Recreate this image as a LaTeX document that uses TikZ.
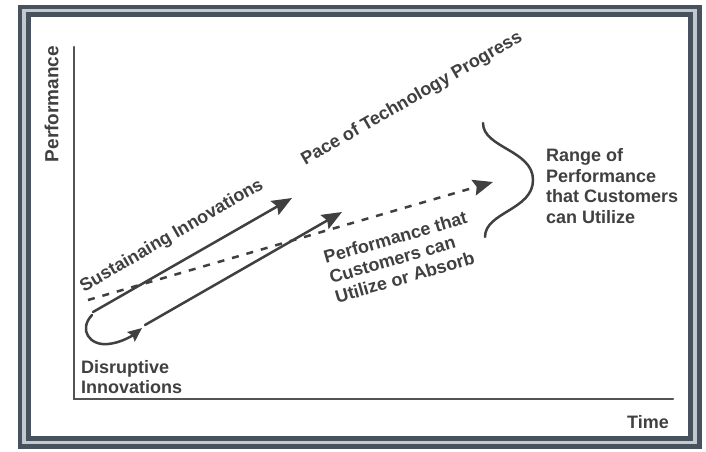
\documentclass[tikz,border=0pt]{standalone}
\usepackage{fontspec}
\setmainfont{Liberation Sans}
\usetikzlibrary{arrows.meta}
\definecolor{framecol}{HTML}{46525E}
\definecolor{gapcol}{HTML}{C5C9CE}
\definecolor{inkcol}{HTML}{404040}

\begin{document}
\begin{tikzpicture}[x=1pt,y=-1pt,line cap=round,>={Stealth[length=20pt,width=16pt,inset=3pt]},
	every node/.style={font=\bfseries\fontsize{18}{20.5}\selectfont,text=inkcol,inner sep=0pt},
	axisline/.style={line width=2.5pt,draw=inkcol!90},
	trend/.style={line width=2.5pt,draw=inkcol,->},
	bracecurve/.style={line width=2.5pt,draw=inkcol}]
	\useasboundingbox (0,0) rectangle (706,451);
	\fill[white] (0,0) rectangle (706,451);
	% double frame
	\draw[gapcol,line width=11pt] (24,11) rectangle (695,442.5);
	\draw[framecol,line width=4.5pt] (20,7) rectangle (699.5,446.5);
	\draw[framecol,line width=5pt] (28,14.5) rectangle (690.5,438.5);
	% axes
	\coordinate (origin) at (74,399);
	\coordinate (ytop) at (74,47);
	\coordinate (xend) at (673,399);
	\draw[axisline] (ytop) -- (origin) -- (xend);
	\node[rotate=90,font=\bfseries\fontsize{19}{21}\selectfont] (perf) at (51.5,104) {Performance};
	\node[anchor=east] (time) at (669,422) {Time};
	% trajectories
	\coordinate (sus0) at (93,312);
	\coordinate (sus1) at (292,198);
	\coordinate (dis0) at (145,325);
	\coordinate (dis1) at (342,212);
	\coordinate (use0) at (88,300);
	\coordinate (use1) at (493,182);
	\draw[trend] (sus0) -- (sus1);
	\draw[trend] (dis0) -- (dis1);
	\draw[trend,dash pattern=on 7pt off 8pt,line cap=butt] (use0) -- (use1);
	\draw[line width=2.5pt,draw=inkcol,-{Stealth[length=14pt,width=12pt,inset=2pt]}]
		(sus0) ++(-1,3) .. controls (78,330) and (90,346) .. (108,344)
		.. controls (120,343) and (132,336) .. (142,328);
	\node[rotate=30] (pace) at (412,99) {Pace of Technology Progress};
	\node[rotate=30] (sust) at (172,236) {Sustainaing Innovations};
	\node[rotate=16,align=left] (absorb) at (401,257) {Performance that\\Customers can\\Utilize or Absorb};
	\node[anchor=west,align=left] (disr) at (81,377) {Disruptive\\Innovations};
	% range brace
	\coordinate (btop) at (483,123);
	\coordinate (btip) at (533,180);
	\coordinate (bbot) at (485,237);
	\draw[bracecurve] (btop) .. controls (483,148) and (533,150) .. (btip)
		.. controls (533,210) and (485,212) .. (bbot);
	\node[anchor=west,align=left] (range) at (546,186) {Range of\\Performance\\that Customers\\can Utilize};
\end{tikzpicture}
\end{document}
